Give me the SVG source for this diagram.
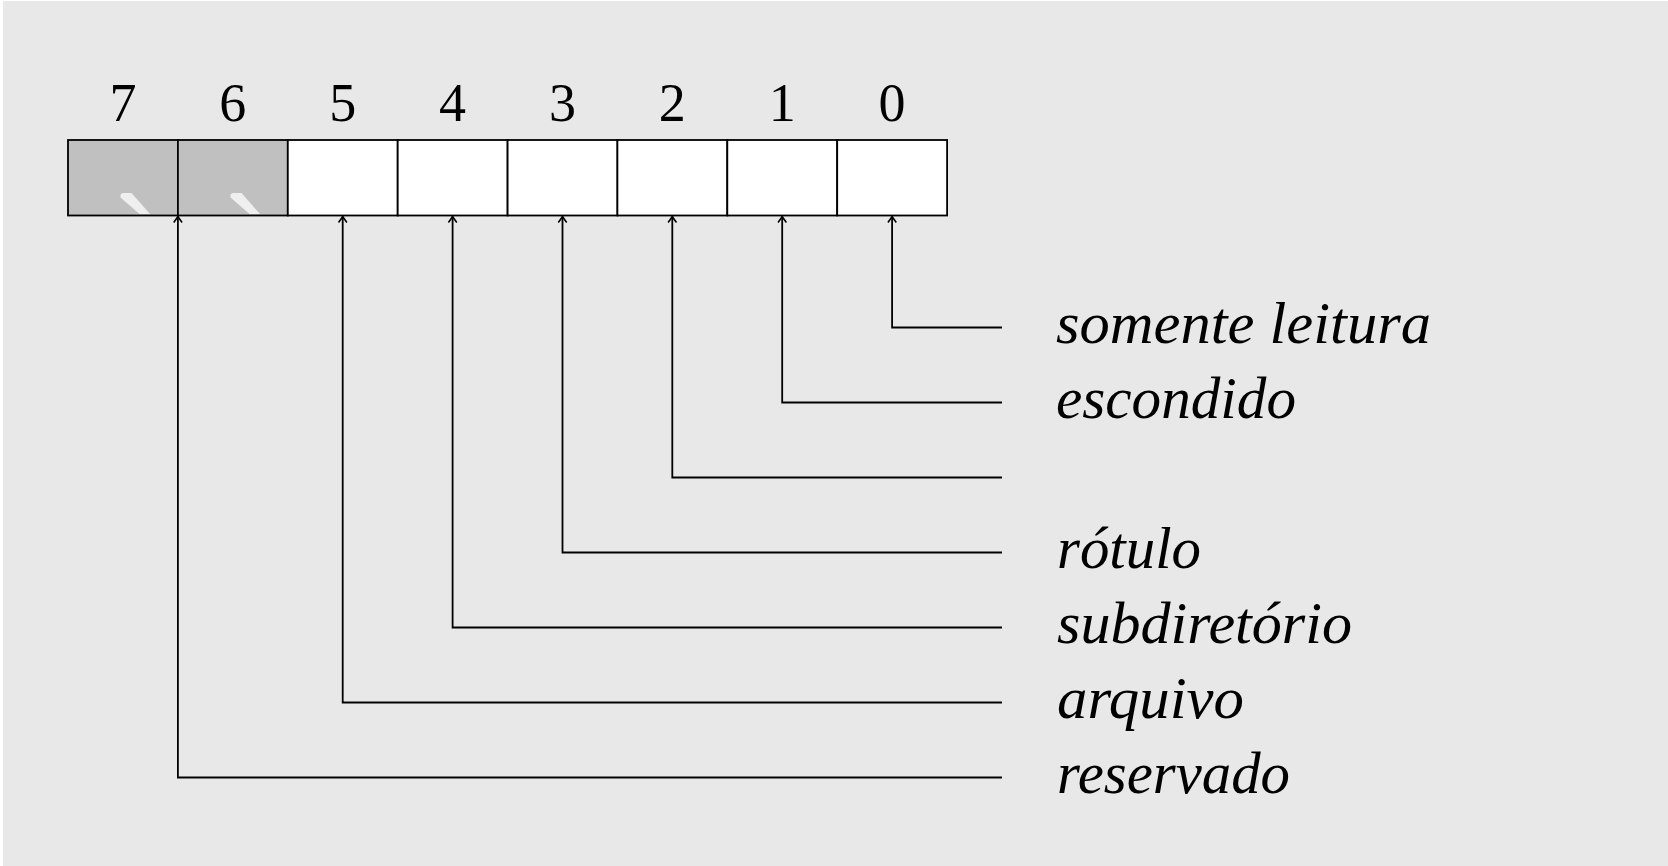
<svg xmlns="http://www.w3.org/2000/svg" width="1668" height="866" viewBox="0 0 1668 866">
  <style>
    .cell { stroke: #000; stroke-width: 1.8; }
    .res { fill: #c0c0c0; }
    .free { fill: #ffffff; }
    .gloss { fill: #efefef; stroke: none; }
    .digit { font-family: "Liberation Serif", "Times New Roman", serif; font-size: 54px; fill: #000; text-anchor: middle; }
    .label { font-family: "Liberation Serif", "Times New Roman", serif; font-style: italic; font-size: 60px; fill: #000; }
    .conn { fill: none; stroke: #000; stroke-width: 1.8; marker-end: url(#arr); }
  </style>
  <defs>
    <marker id="arr" markerUnits="userSpaceOnUse" viewBox="-8 -6 10 12" markerWidth="10" markerHeight="12" refX="0" refY="0" orient="auto">
      <path d="M-6,-4.2 Q-2,-1.2 0,0 Q-2,1.2 -6,4.2" fill="none" stroke="#000" stroke-width="1.5"/>
    </marker>
  </defs>
  <rect x="0" y="0" width="1668" height="866" fill="#ffffff"/>
  <rect x="3" y="1" width="1665" height="865" fill="#e8e8e8"/>

  <g id="bit7">
    <rect class="cell res" x="68" y="140" width="109.9" height="75.5"/>
    <polygon class="gloss" points="120.5,194.5 122.5,193 131.5,193 150,214 139.5,214 120.5,197.5"/>
    <text class="digit" x="123" y="120.5">7</text>
  </g>
  <g id="bit6">
    <rect class="cell res" x="177.9" y="140" width="109.9" height="75.5"/>
    <polygon class="gloss" points="230.5,194.5 232.5,193 241.5,193 260,214 249.5,214 230.5,197.5"/>
    <text class="digit" x="232.8" y="120.5">6</text>
  </g>
  <g id="bit5">
    <rect class="cell free" x="287.8" y="140" width="109.9" height="75.5"/>
    <text class="digit" x="342.7" y="120.5">5</text>
  </g>
  <g id="bit4">
    <rect class="cell free" x="397.7" y="140" width="109.9" height="75.5"/>
    <text class="digit" x="452.6" y="120.5">4</text>
  </g>
  <g id="bit3">
    <rect class="cell free" x="507.6" y="140" width="109.9" height="75.5"/>
    <text class="digit" x="562.5" y="120.5">3</text>
  </g>
  <g id="bit2">
    <rect class="cell free" x="617.4" y="140" width="109.9" height="75.5"/>
    <text class="digit" x="672.3" y="120.5">2</text>
  </g>
  <g id="bit1">
    <rect class="cell free" x="727.3" y="140" width="109.9" height="75.5"/>
    <text class="digit" x="782.2" y="120.5">1</text>
  </g>
  <g id="bit0">
    <rect class="cell free" x="837.2" y="140" width="109.9" height="75.5"/>
    <text class="digit" x="892.1" y="120.5">0</text>
  </g>

  <g id="connectors">
    <path class="conn" d="M1002,327.5 H892.1 V216.5"/>
    <path class="conn" d="M1002,402.5 H782.2 V216.5"/>
    <path class="conn" d="M1002,477.5 H672.3 V216.5"/>
    <path class="conn" d="M1002,552.5 H562.5 V216.5"/>
    <path class="conn" d="M1002,627.5 H452.6 V216.5"/>
    <path class="conn" d="M1002,702.5 H342.7 V216.5"/>
    <path class="conn" d="M1002,777.5 H177.9 V216.5"/>
  </g>

  <g id="label-somente-leitura"><text class="label" x="1056" y="343" textLength="375" lengthAdjust="spacingAndGlyphs">somente leitura</text></g>
  <g id="label-escondido"><text class="label" x="1056" y="418" textLength="240" lengthAdjust="spacingAndGlyphs">escondido</text></g>
  <g id="label-rotulo"><text class="label" x="1057" y="568" textLength="144" lengthAdjust="spacingAndGlyphs">rótulo</text></g>
  <g id="label-subdiretorio"><text class="label" x="1057" y="643" textLength="295" lengthAdjust="spacingAndGlyphs">subdiretório</text></g>
  <g id="label-arquivo"><text class="label" x="1057" y="718" textLength="187" lengthAdjust="spacingAndGlyphs">arquivo</text></g>
  <g id="label-reservado"><text class="label" x="1057" y="793" textLength="233" lengthAdjust="spacingAndGlyphs">reservado</text></g>
</svg>
